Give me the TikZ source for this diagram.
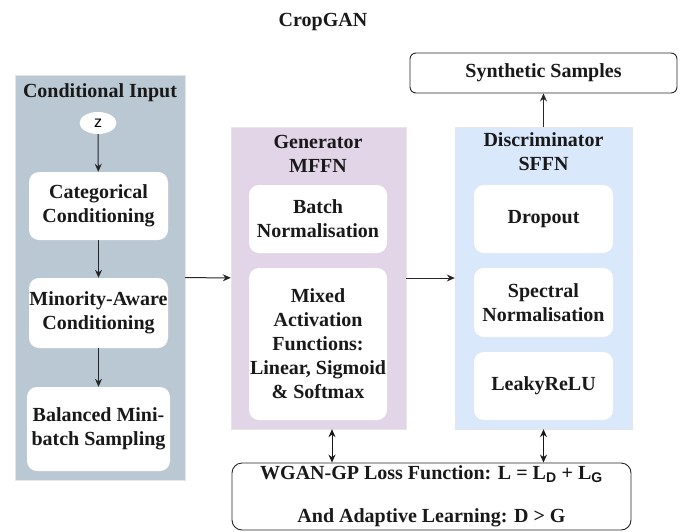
\documentclass[tikz,border=0pt]{standalone}
\usepackage{fontspec}
\setmainfont{Liberation Serif}
\newfontfamily\zfont{Liberation Sans}
\usetikzlibrary{shapes.geometric, arrows.meta, positioning}

\definecolor{inputblue}{HTML}{BAC8D3}
\definecolor{genpurple}{HTML}{E1D5E7}
\definecolor{discblue}{HTML}{DAE8FC}

\begin{document}
\begin{tikzpicture}[
        x=1pt, y=-1pt,
        boldtext/.style={font=\bfseries\fontsize{20}{24}\selectfont, text=black!90},
        panel/.style={rectangle, draw=black!10, inner sep=0pt},
        panelname/.style={boldtext, align=center},
        block/.style={
            rectangle, fill=white, rounded corners=10pt,
            boldtext, align=center, inner sep=0pt
        },
        outbox/.style={
            rectangle, draw=black!85, fill=white, line width=0.9pt,
            boldtext, align=center, inner sep=0pt
        },
        flow/.style={draw=black!85, line width=1pt, -{Stealth[length=8pt, width=7pt]}},
        twoway/.style={draw=black!90, line width=1pt, {Stealth[length=8pt, width=7pt]}-{Stealth[length=8pt, width=7pt]}}
    ]
        \useasboundingbox (0,0) rectangle (686,531);

        \node[boldtext] (title) at (323, 22) {CropGAN};

        \node[panel, fill=inputblue, minimum width=170, minimum height=405] (input) at (100, 277.5) {};
        \node[panelname] (inputname) at (100, 93) {Conditional Input};
        \node[ellipse, fill=white, minimum width=37, minimum height=22, inner sep=0pt,
              font=\zfont\fontsize{16}{18}\selectfont] (z) at (98, 123) {z};
        \node[block, minimum width=139, minimum height=68] (cat) at (98.5, 206) {Categorical\\Conditioning};
        \node[block, minimum width=139, minimum height=70] (minority) at (98.5, 313) {Minority-Aware\\Conditioning};
        \node[block, minimum width=143, minimum height=84] (balanced) at (98.5, 429) {Balanced Mini-\\batch Sampling};

        \node[panel, fill=genpurple, minimum width=175, minimum height=302] (gen) at (318.5, 278) {};
        \node[panelname] (genname) at (318, 154) {Generator\\MFFN};
        \node[block, minimum width=138, minimum height=68] (batchnorm) at (318, 219) {Batch\\Normalisation};
        \node[block, minimum width=138, minimum height=152] (mixed) at (318, 344)
            {Mixed\\Activation\\Functions:\\Linear, Sigmoid\\\& Softmax};

        \node[panel, fill=discblue, minimum width=177, minimum height=302] (disc) at (543.5, 278) {};
        \node[panelname] (discname) at (543.5, 152) {Discriminator\\SFFN};
        \node[block, minimum width=139, minimum height=68] (dropout) at (543.5, 219) {Dropout};
        \node[block, minimum width=139, minimum height=69] (spectral) at (543.5, 302.5) {Spectral\\Normalisation};
        \node[block, minimum width=139, minimum height=68] (leaky) at (543.5, 386) {LeakyReLU};

        \node[outbox, rounded corners=6pt, minimum width=267, minimum height=40] (synthetic) at (543.5, 73) {Synthetic Samples};

        \node[outbox, rounded corners=10pt, minimum width=399, minimum height=67] (loss) at (431.5, 496.5)
            {WGAN-GP Loss Function: L = L{\zfont\textsubscript{D}} + L{\zfont\textsubscript{G}}\\[19pt]
             And Adaptive Learning: D > G};

        \draw[flow] (z) -- (cat);
        \draw[flow] (cat) -- (minority);
        \draw[flow] (minority) -- (balanced);
        \draw[flow] (input) -- (gen);
        \draw[flow] (gen) -- (disc);
        \draw[flow] (disc) -- (synthetic);
        \draw[twoway] ([xshift=13.5]gen.south) -- ([xshift=13.5]gen.south |- loss.north);
        \draw[twoway] (disc.south) -- (disc.south |- loss.north);
    \end{tikzpicture}
\end{document}
